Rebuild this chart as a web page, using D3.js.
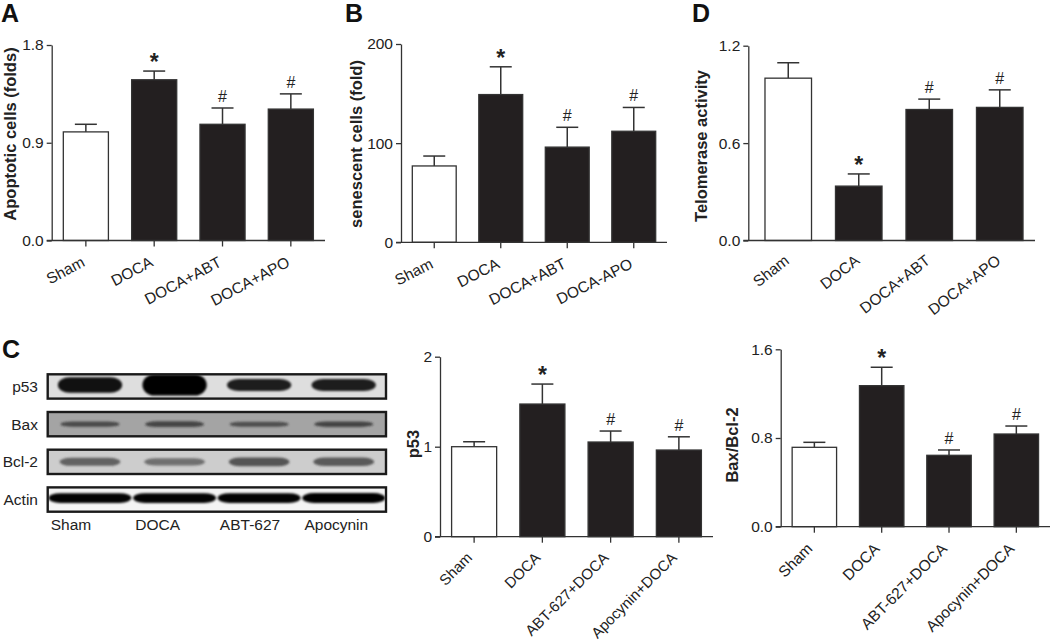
<!DOCTYPE html>
<html>
<head>
<meta charset="utf-8">
<script src="https://d3js.org/d3.v7.min.js"></script>
<style>
  body { margin: 0; background: #fff; }
  svg { font-family: Arial, "Liberation Sans", Helvetica, sans-serif; }
  .tick text { fill: #222; }
  .tick line, .domain { stroke: #333; stroke-width: 1.3; }
</style>
</head>
<body>
<svg id="fig" width="1050" height="642"></svg>
<script>
// ---- data ----
const groupsTop = ["Sham", "DOCA", "DOCA+ABT", "DOCA+APO"];
const groupsB = ["Sham", "DOCA", "DOCA+ABT", "DOCA-APO"];
const groupsBottom = ["Sham", "DOCA", "ABT-627+DOCA", "Apocynin+DOCA"];
const marks = ["", "*", "#", "#"];

const apoptoticMean = [1.0, 1.48, 1.07, 1.21];
const apoptoticErr = [0.07, 0.08, 0.15, 0.14];
const apoptoticTicks = [0, 0.9, 1.8];

const senescentMean = [77, 149, 96, 112];
const senescentErr = [10, 28, 20, 24];
const senescentTicks = [0, 100, 200];

const telomeraseMean = [1.0, 0.335, 0.807, 0.82];
const telomeraseErr = [0.095, 0.075, 0.064, 0.108];
const telomeraseTicks = [0, 0.6, 1.2];

const p53Mean = [1.0, 1.474, 1.052, 0.963];
const p53Err = [0.055, 0.222, 0.122, 0.147];
const p53Ticks = [0, 1, 2];

const baxBclMean = [0.716, 1.272, 0.644, 0.836];
const baxBclErr = [0.045, 0.166, 0.048, 0.072];
const baxBclTicks = [0, 0.8, 1.6];

// western blot: rows, lanes, band density per lane (0-1)
const blotProteins = ["p53", "Bax", "Bcl-2", "Actin"];
const blotLanes = ["Sham", "DOCA", "ABT-627", "Apocynin"];
const p53Bands = [0.6, 1.0, 0.35, 0.35];
const baxBands = [0.55, 0.65, 0.5, 0.62];
const bcl2Bands = [0.6, 0.45, 0.75, 0.7];
const actinBands = [0.9, 0.9, 0.9, 1.0];

const svg = d3.select("#fig");

function barPanel(c) {
  const g = svg.append("g");
  const y = d3.scaleLinear().domain([0, c.max]).range([c.y0, c.yTop]);
  const x = d3.scaleBand().domain(c.groups).range(c.xRange)
    .paddingInner(0.34).paddingOuter(0.17);
  const rows = c.groups.map((d, i) => ({ g: d, m: c.mean[i], e: c.err[i], mk: marks[i], i }));

  // error bars (upper only)
  const eb = g.selectAll("g.err").data(rows).join("g").attr("class", "err")
    .attr("stroke", "#333").attr("stroke-width", 1.5);
  eb.append("line")
    .attr("x1", d => x(d.g) + x.bandwidth() / 2).attr("x2", d => x(d.g) + x.bandwidth() / 2)
    .attr("y1", d => y(d.m)).attr("y2", d => y(d.m + d.e));
  eb.append("line")
    .attr("x1", d => x(d.g) + x.bandwidth() / 2 - 11).attr("x2", d => x(d.g) + x.bandwidth() / 2 + 11)
    .attr("y1", d => y(d.m + d.e)).attr("y2", d => y(d.m + d.e));

  g.selectAll("rect.bar").data(rows).join("rect").attr("class", "bar")
    .attr("x", d => x(d.g)).attr("width", x.bandwidth())
    .attr("y", d => y(d.m)).attr("height", d => c.y0 - y(d.m))
    .attr("fill", d => d.i === 0 ? "#fff" : "#231f20")
    .attr("stroke", "#333").attr("stroke-width", 1.3);

  // significance marks
  g.selectAll("text.mark").data(rows.filter(d => d.mk)).join("text").attr("class", "mark")
    .attr("x", d => x(d.g) + x.bandwidth() / 2)
    .attr("y", d => y(d.m + d.e) - (d.mk === "*" ? 1 : 6))
    .attr("text-anchor", "middle")
    .attr("font-size", d => d.mk === "*" ? 23 : 16)
    .attr("font-weight", d => d.mk === "*" ? "bold" : "normal")
    .attr("fill", "#222")
    .text(d => d.mk);

  // y axis
  const ya = g.append("g").attr("transform", `translate(${c.xAxis},0)`)
    .call(d3.axisLeft(y).tickValues(c.ticks).tickSize(5).tickSizeOuter(0).tickFormat(c.fmt));
  ya.selectAll(".tick text").attr("font-size", 15.5).attr("x", -8);

  // x axis
  const xa = g.append("g").attr("transform", `translate(0,${c.y0})`)
    .call(d3.axisBottom(x).tickSize(c.xTicks ? 6 : 0).tickSizeOuter(0));
  xa.select(".domain").remove();
  g.append("line").attr("x1", c.xAxis - 5).attr("x2", c.xEnd)
    .attr("y1", c.y0).attr("y2", c.y0).attr("stroke", "#333").attr("stroke-width", 1.3);
  xa.selectAll(".tick text")
    .attr("x", 0).attr("y", 0).attr("dy", 0)
    .attr("font-size", c.xFont)
    .attr("text-anchor", "end")
    .attr("transform", `translate(${c.dx},${c.dy}) rotate(${c.rot})`);

  // y label
  g.append("text")
    .attr("transform", `translate(${c.ylx},${c.yly}) rotate(-90)`)
    .attr("text-anchor", "middle").attr("font-size", 16.5).attr("font-weight", "bold")
    .attr("fill", "#222").text(c.ylabel);
}

const f1 = d3.format(".1f"), f0 = d3.format("d");

barPanel({ groups: groupsTop, mean: apoptoticMean, err: apoptoticErr, max: 1.8, ticks: apoptoticTicks, fmt: f1,
  y0: 240.5, yTop: 45, xAxis: 51.7, xEnd: 325, xRange: [51.7, 325], xTicks: true,
  rot: -28, dx: 0, dy: 25, xFont: 15.5, ylabel: "Apoptotic cells (folds)", ylx: 16, yly: 134 });

barPanel({ groups: groupsB, mean: senescentMean, err: senescentErr, max: 200, ticks: senescentTicks, fmt: f0,
  y0: 242.3, yTop: 44, xAxis: 401, xEnd: 667, xRange: [401, 667], xTicks: true,
  rot: -27, dx: 0, dy: 25, xFont: 15.5, ylabel: "senescent cells (fold)", ylx: 362, yly: 144 });

barPanel({ groups: groupsTop, mean: telomeraseMean, err: telomeraseErr, max: 1.2, ticks: telomeraseTicks, fmt: f1,
  y0: 240.5, yTop: 45.7, xAxis: 748.3, xEnd: 1035, xRange: [753, 1035], xTicks: false,
  rot: -38, dx: 2, dy: 22, xFont: 15.5, ylabel: "Telomerase activity", ylx: 707, yly: 146 });

barPanel({ groups: groupsBottom, mean: p53Mean, err: p53Err, max: 2, ticks: p53Ticks, fmt: f0,
  y0: 536.7, yTop: 356.7, xAxis: 440, xEnd: 713, xRange: [440, 713], xTicks: true,
  rot: -45, dx: -1, dy: 22, xFont: 15, ylabel: "p53", ylx: 419, yly: 444 });

barPanel({ groups: groupsBottom, mean: baxBclMean, err: baxBclErr, max: 1.6, ticks: baxBclTicks, fmt: f1,
  y0: 526.7, yTop: 349.3, xAxis: 780.7, xEnd: 1050, xRange: [780.7, 1050], xTicks: true,
  rot: -45, dx: -1, dy: 23, xFont: 15.5, ylabel: "Bax/Bcl-2", ylx: 738, yly: 445 });

// ---- western blot ----
const bandData = [p53Bands, baxBands, bcl2Bands, actinBands];
const stripStyle = [
  { bg: "#dedede", ink: "#050505", base: 7, grow: 14, wid: 0.76, off: -1.5, op: 0.8 },
  { bg: "#a4a4a4", ink: "#2a2a2a", base: 3, grow: 4, wid: 0.7, off: 0, op: 0.4 },
  { bg: "#cdcdcd", ink: "#404040", base: 5, grow: 5, wid: 0.72, off: 0, op: 0.4 },
  { bg: "#f4f4f4", ink: "#030303", base: 7, grow: 3, wid: 0.98, off: -1.5, op: 0.9 }
];
const rowY = d3.scaleBand().domain(blotProteins).range([374.3, 511.7]).paddingInner(0.355);
const laneX = d3.scaleBand().domain(blotLanes).range([47.7, 386]);

const defs = svg.append("defs");
defs.append("filter").attr("id", "blur").attr("x", "-20%").attr("y", "-100%")
  .attr("width", "140%").attr("height", "300%")
  .append("feGaussianBlur").attr("stdDeviation", 1.3);
defs.selectAll("clipPath").data(blotProteins).join("clipPath")
  .attr("id", (d, i) => "strip" + i)
  .append("rect").attr("x", 47.7).attr("width", 386 - 47.7)
  .attr("y", d => rowY(d)).attr("height", rowY.bandwidth());

const blot = svg.append("g");
const strips = blot.selectAll("g.strip").data(blotProteins).join("g").attr("class", "strip");
strips.append("rect")
  .attr("x", 47.7).attr("width", 386 - 47.7)
  .attr("y", d => rowY(d)).attr("height", rowY.bandwidth())
  .attr("fill", (d, i) => stripStyle[i].bg);
strips.append("g").attr("clip-path", (d, i) => `url(#strip${i})`)
  .each(function (p, i) {
    const st = stripStyle[i];
    const cy = rowY(p) + rowY.bandwidth() / 2 + st.off;
    d3.select(this).append("g").attr("filter", "url(#blur)")
      .selectAll("rect").data(bandData[i]).join("rect")
      .attr("x", (d, j) => laneX(blotLanes[j]) + laneX.bandwidth() * (1 - st.wid) / 2)
      .attr("width", laneX.bandwidth() * st.wid)
      .attr("y", d => cy - (st.base + st.grow * d) / 2)
      .attr("height", d => st.base + st.grow * d)
      .attr("rx", laneX.bandwidth() * 0.14)
      .attr("fill", st.ink)
      .attr("opacity", d => st.op + (1 - st.op) * d);
  });
strips.append("rect")
  .attr("x", 47.7).attr("width", 386 - 47.7)
  .attr("y", d => rowY(d)).attr("height", rowY.bandwidth())
  .attr("fill", "none").attr("stroke", "#1a1a1a").attr("stroke-width", 2.4);
strips.append("text")
  .attr("x", 38).attr("y", d => rowY(d) + rowY.bandwidth() / 2 + 5.5)
  .attr("text-anchor", "end").attr("font-size", 15.5).attr("fill", "#222")
  .text(d => d);
blot.selectAll("text.lane").data(blotLanes).join("text").attr("class", "lane")
  .attr("x", d => laneX(d) + 3).attr("y", 529.5)
  .attr("font-size", 15.5).attr("fill", "#222").text(d => d);

// panel letters
const letters = [["A", 1, 22], ["B", 345, 22], ["D", 692, 22], ["C", 2, 358]];
svg.selectAll("text.letter").data(letters).join("text").attr("class", "letter")
  .attr("x", d => d[1]).attr("y", d => d[2])
  .attr("font-size", 25).attr("font-weight", "bold").attr("fill", "#111")
  .text(d => d[0]);
</script>
</body>
</html>
